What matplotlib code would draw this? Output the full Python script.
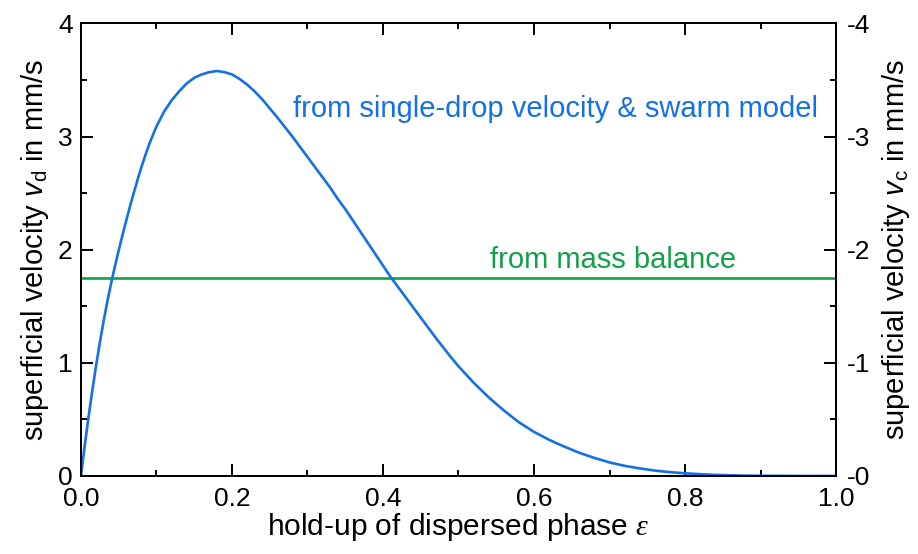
import matplotlib
matplotlib.use("Agg")
import matplotlib.pyplot as plt
from matplotlib.ticker import MultipleLocator, FuncFormatter

# hold-up of dispersed phase and superficial dispersed-phase velocity (mm/s)
holdup = [0.0, 0.005, 0.01, 0.015, 0.02, 0.025, 0.03, 0.035, 0.04, 0.045,
          0.05, 0.055, 0.06, 0.065, 0.07, 0.075, 0.08, 0.085, 0.09, 0.095,
          0.10, 0.11, 0.12, 0.13, 0.14, 0.15, 0.16, 0.17, 0.18, 0.19,
          0.20, 0.21, 0.22, 0.23, 0.24, 0.25, 0.26, 0.27, 0.28, 0.29,
          0.30, 0.31, 0.32, 0.33, 0.34, 0.35, 0.36, 0.37, 0.38, 0.39,
          0.40, 0.41, 0.42, 0.43, 0.44, 0.45, 0.46, 0.47, 0.48, 0.49,
          0.50, 0.52, 0.54, 0.56, 0.58, 0.60, 0.62, 0.64, 0.66, 0.68,
          0.70, 0.72, 0.74, 0.76, 0.78, 0.80, 0.82, 0.84, 0.86, 0.88,
          0.90, 0.93, 0.96, 1.0]
v_swarm = [0.0, 0.27, 0.52, 0.755, 0.975, 1.18, 1.37, 1.545, 1.705, 1.855,
           1.995, 2.13, 2.26, 2.385, 2.505, 2.62, 2.73, 2.83, 2.925, 3.01,
           3.09, 3.22, 3.32, 3.40, 3.47, 3.52, 3.55, 3.57, 3.58, 3.57,
           3.55, 3.51, 3.46, 3.40, 3.33, 3.25, 3.17, 3.085, 3.00, 2.91,
           2.82, 2.73, 2.64, 2.55, 2.45, 2.36, 2.26, 2.16, 2.06, 1.96,
           1.86, 1.76, 1.67, 1.58, 1.49, 1.40, 1.31, 1.22, 1.135, 1.05,
           0.97, 0.825, 0.695, 0.58, 0.475, 0.39, 0.32, 0.26, 0.205, 0.16,
           0.12, 0.09, 0.067, 0.048, 0.034, 0.024, 0.016, 0.010, 0.006, 0.003,
           0.002, 0.001, 0.0, 0.0]

# constant superficial velocity from the mass balance (mm/s)
v_mass_balance = 1.75

x_ticks = [0.0, 0.2, 0.4, 0.6, 0.8, 1.0]
y_ticks = [0, 1, 2, 3, 4]

BLUE = "#1470E6"
GREEN = "#12A048"

plt.rcParams["font.family"] = ["Liberation Sans", "DejaVu Sans"]
plt.rcParams["mathtext.fontset"] = "custom"
plt.rcParams["mathtext.rm"] = "Liberation Sans"
plt.rcParams["mathtext.sf"] = "Liberation Sans:italic"
plt.rcParams["mathtext.it"] = "Liberation Serif:italic"

fig = plt.figure(figsize=(9.18, 5.54), dpi=100)
ax = fig.add_axes([0.0882, 0.1408, 0.8225, 0.8168])

ax.plot(holdup, v_swarm, color=BLUE, lw=1.9, solid_joinstyle="round",
        solid_capstyle="round", zorder=3)
ax.axhline(v_mass_balance, color=GREEN, lw=1.9, zorder=2)

ax.set_xlim(0, 1)
ax.set_ylim(0, 4)
ax.set_xticks(x_ticks)
ax.set_yticks(y_ticks)
ax.xaxis.set_minor_locator(MultipleLocator(0.1))
ax.yaxis.set_minor_locator(MultipleLocator(0.5))
ax.xaxis.set_major_formatter(FuncFormatter(lambda v, p: f"{v:.1f}"))
ax.yaxis.set_major_formatter(FuncFormatter(lambda v, p: f"{v:.0f}"))

for s in ax.spines.values():
    s.set_linewidth(1.4)

ax.tick_params(which="both", direction="in", top=True, right=False,
               width=1.4, labelsize=19, colors="black")
ax.tick_params(which="major", length=8.5)
ax.tick_params(which="minor", length=4.3)
ax.tick_params(axis="x", pad=8)
ax.tick_params(axis="y", pad=6)

ax2 = ax.twinx()
ax2.set_ylim(0, 4)
ax2.set_yticks(y_ticks)
ax2.yaxis.set_minor_locator(MultipleLocator(0.5))
ax2.yaxis.set_major_formatter(FuncFormatter(lambda v, p: f"-{v:.0f}"))
ax2.tick_params(which="both", direction="in", width=1.4, labelsize=19)
ax2.tick_params(which="major", length=8.5, pad=8)
ax2.tick_params(which="minor", length=4.3)
for s in ax2.spines.values():
    s.set_linewidth(1.4)

ax.set_xlabel(r"hold-up of dispersed phase $\varepsilon$", fontsize=21.5, labelpad=0)
ax.set_ylabel(r"superficial velocity $\mathsf{v}_\mathrm{d}$ in mm/s", fontsize=21, labelpad=5)
ax2.set_ylabel(r"superficial velocity $\mathsf{v}_\mathrm{c}$ in mm/s", fontsize=21, labelpad=7)

ax.text(0.281, 3.17, "from single-drop velocity & swarm model", color=BLUE,
        fontsize=21, ha="left", va="baseline")
ax.text(0.5417, 1.84, "from mass balance", color=GREEN,
        fontsize=21, ha="left", va="baseline")

fig.savefig("out.png", dpi=100)
